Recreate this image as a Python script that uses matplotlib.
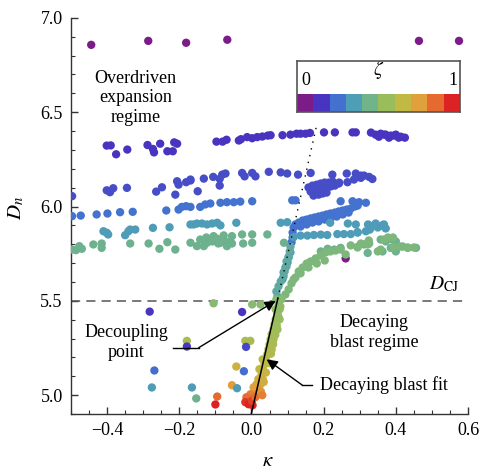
import matplotlib
matplotlib.use("Agg")
import matplotlib.pyplot as plt
from matplotlib.colors import LinearSegmentedColormap
import numpy as np

plt.rcParams["font.family"] = ["Liberation Serif", "DejaVu Serif"]
plt.rcParams["mathtext.fontset"] = "stix"

# ── colour scale (10 bins, zeta 0 -> 1) ──────────────────────────────────────
BIN_COLORS = ["#7b1c88", "#4834c0", "#4470d0", "#4e9eb6", "#72b48a",
              "#9abd5c", "#c2b844", "#e0a03c", "#e66a30", "#dc2222"]
cmap = LinearSegmentedColormap.from_list("zeta", BIN_COLORS)

# ── data: (kappa, D_n) per zeta group ────────────────────────────────────────
purple_x = [-0.444, -0.286, -0.181, -0.067, 0.464, 0.575, 0.261]
purple_y = [6.857, 6.878, 6.868, 6.884, 6.878, 6.878, 5.725]
purple_z = 0.0

indigo_x = [-0.401, -0.390, -0.375, -0.344, -0.288, -0.273, -0.270, -0.253, -0.233, -0.218,
            -0.214, -0.206, -0.097, -0.080, -0.069, -0.035, -0.029, -0.012, 0.002, 0.016,
            0.030, 0.045, 0.053, 0.086, 0.108, 0.125, 0.136, 0.150, 0.162, 0.201,
            0.231, 0.280, 0.289, 0.331, 0.344, 0.353, 0.358, 0.368, 0.372, 0.381,
            0.386, 0.395, 0.400, 0.408, 0.414, 0.425]
indigo_y = [6.323, 6.324, 6.277, 6.302, 6.326, 6.305, 6.287, 6.333, 6.293, 6.293,
            6.340, 6.333, 6.344, 6.344, 6.354, 6.350, 6.357, 6.368, 6.362, 6.368,
            6.371, 6.376, 6.378, 6.378, 6.381, 6.386, 6.386, 6.386, 6.390, 6.393,
            6.393, 6.393, 6.393, 6.392, 6.381, 6.370, 6.386, 6.381, 6.381, 6.365,
            6.376, 6.376, 6.381, 6.365, 6.370, 6.365]
indigo_z = 0.11

violet_blue_x = [-0.497, -0.401, -0.392, -0.383, -0.345, -0.264, -0.248, -0.211, -0.206, -0.202,
                 -0.181, -0.169, -0.149, -0.169, -0.132, -0.106, -0.088, -0.081, -0.072, -0.088,
                 -0.026, -0.019, 0.002, 0.011, 0.048, 0.081, 0.099, 0.129, 0.164, 0.224,
                 0.264, 0.289, 0.303, 0.312, 0.326, 0.243, 0.266, 0.284, 0.303, 0.335,
                 0.158, 0.169, 0.181, 0.192, 0.203, 0.214, 0.225, 0.164, 0.175, 0.186,
                 0.197, 0.208, 0.219, 0.172, 0.186, 0.197, 0.208, 0.231, 0.242]
violet_blue_y = [6.055, 6.086, 6.076, 6.097, 6.099, 6.079, 6.102, 6.063, 6.134, 6.116,
                 6.129, 6.138, 6.081, 6.143, 6.148, 6.157, 6.147, 6.169, 6.175, 6.111,
                 6.178, 6.160, 6.178, 6.160, 6.184, 6.181, 6.175, 6.169, 6.178, 6.169,
                 6.175, 6.175, 6.164, 6.164, 6.157, 6.127, 6.129, 6.143, 6.152, 6.146,
                 6.101, 6.111, 6.116, 6.122, 6.127, 6.127, 6.132, 6.079, 6.085, 6.090,
                 6.095, 6.101, 6.106, 6.058, 6.063, 6.069, 6.074, 6.111, 6.122]
violet_blue_z = 0.16

blue_x = [-0.497, -0.473, -0.429, -0.399, -0.364, -0.329, -0.236, -0.202, -0.193, -0.181,
          -0.169, -0.142, -0.128, -0.114, -0.086, -0.068, -0.049, -0.031, 0.002, 0.113,
          0.122, 0.247, 0.280, 0.298, 0.317,
          0.111, 0.114, 0.114, 0.117, 0.122, 0.131, 0.142, 0.153, 0.164, 0.175,
          0.186, 0.197, 0.208, 0.219, 0.231, 0.242, 0.253, 0.264, 0.275, 0.286,
          0.294, 0.136, 0.153, 0.169, 0.186, 0.203, 0.219, 0.236, 0.253, 0.269]
blue_y = [5.949, 5.952, 5.958, 5.963, 5.970, 5.972, 5.979, 5.984, 5.998, 6.002,
          5.998, 5.998, 6.011, 6.016, 6.020, 6.023, 6.023, 6.026, 6.028, 6.033,
          6.033, 6.028, 6.028, 6.023, 6.020,
          5.810, 5.836, 5.862, 5.889, 5.905, 5.915, 5.926, 5.931, 5.937, 5.942,
          5.947, 5.952, 5.958, 5.963, 5.968, 5.974, 5.979, 5.984, 5.989, 6.000,
          6.005, 5.894, 5.905, 5.915, 5.921, 5.931, 5.937, 5.947, 5.958, 5.968]
blue_z = 0.23

teal_x = [-0.410, -0.401, -0.397, -0.350, -0.341, -0.336, -0.322, -0.273, -0.227, -0.169,
          -0.160, -0.151, -0.137, -0.123, -0.109, -0.095, -0.086, -0.042, 0.081, 0.099,
          0.218, 0.267, 0.289, 0.323, 0.328, 0.351, 0.294, 0.317,
          0.117, 0.136, 0.155, 0.173, 0.192, 0.210, 0.238, 0.256, 0.275, 0.294,
          0.108, 0.100, 0.089, 0.086, 0.094, 0.103,
          0.339, 0.350, 0.361, 0.372, 0.344, 0.367]
teal_y = [5.869, 5.861, 5.852, 5.848, 5.869, 5.878, 5.878, 5.887, 5.890, 5.905,
          5.905, 5.910, 5.910, 5.905, 5.910, 5.914, 5.900, 5.914, 5.914, 5.917,
          5.914, 5.910, 5.905, 5.905, 5.878, 5.896, 5.864, 5.869,
          5.838, 5.846, 5.846, 5.849, 5.851, 5.849, 5.854, 5.854, 5.854, 5.862,
          5.757, 5.704, 5.651, 5.614, 5.677, 5.730,
          5.899, 5.889, 5.899, 5.884, 5.910, 5.905]
teal_z = 0.33

green_x = [-0.497, -0.486, -0.477, -0.470, -0.438, -0.415, -0.415, -0.336, -0.285, -0.255,
           -0.233, -0.211, -0.169, -0.151, -0.132, -0.123, -0.105, -0.095, -0.086, -0.077,
           -0.068, -0.054, -0.054, -0.026, -0.023, 0.002, 0.002, 0.044,
           -0.142, -0.125, -0.108, -0.092, -0.075, -0.061, 0.090,
           0.358, 0.372, 0.390, 0.400, 0.312, 0.326, 0.294, 0.247, 0.229, 0.211,
           0.192, 0.363, 0.386, 0.400, 0.419, 0.433, 0.456, 0.322]
green_y = [5.772, 5.769, 5.790, 5.776, 5.799, 5.804, 5.781, 5.804, 5.804, 5.776,
           5.811, 5.772, 5.808, 5.790, 5.790, 5.808, 5.843, 5.829, 5.808, 5.847,
           5.790, 5.804, 5.843, 5.852, 5.804, 5.852, 5.808, 5.852,
           5.825, 5.836, 5.815, 5.804, 5.820, 5.810, 5.808,
           5.825, 5.815, 5.825, 5.815, 5.799, 5.804, 5.786, 5.781, 5.772, 5.776,
           5.762, 5.762, 5.781, 5.762, 5.788, 5.781, 5.781, 5.754]
green_z = 0.43

column_x = [0.072, 0.069, 0.075, 0.081, 0.089, 0.092, 0.097, 0.097, 0.103, 0.106, 0.108]
column_y = [5.524, 5.550, 5.577, 5.603, 5.630, 5.656, 5.683, 5.709, 5.735, 5.762, 5.788]
column_z = 0.39

band_x = [0.094, 0.103, 0.111, 0.122, 0.131, 0.142, 0.153, 0.164, 0.178, 0.192,
          0.206, 0.219, 0.233, 0.247, 0.117, 0.136, 0.158, 0.181, 0.203,
          0.261, 0.294, 0.322, 0.325, 0.350, 0.358, 0.367, 0.378, 0.392, 0.394,
          0.414, 0.433, 0.450, 0.275, 0.303]
band_y = [5.534, 5.561, 5.593, 5.624, 5.656, 5.677, 5.698, 5.709, 5.725, 5.741,
          5.757, 5.762, 5.767, 5.772, 5.614, 5.646, 5.677, 5.698, 5.714,
          5.746, 5.783, 5.799, 5.820, 5.762, 5.772, 5.825, 5.836, 5.836, 5.783,
          5.788, 5.783, 5.783, 5.794, 5.804]
band_z = 0.48

# decaying-blast branch below D_CJ, zeta rising towards the bottom
decay_x = [0.069, 0.083, 0.075, 0.078, 0.067, 0.072, 0.067, 0.078, 0.064, 0.061,
           0.072, 0.056, 0.053, 0.061, 0.050, 0.047, 0.056, 0.044, 0.039, 0.031,
           0.036, 0.031, 0.022, 0.028, 0.019, 0.031, 0.014, 0.025, 0.006, 0.019,
           -0.003, 0.014, -0.014, 0.008, -0.017, -0.008, 0.003, 0.001, 0.011,
           0.080, 0.074, 0.070, 0.066, 0.060, 0.054, 0.048, 0.040, 0.034, 0.026, 0.030]
decay_y = [5.508, 5.508, 5.481, 5.455, 5.455, 5.429, 5.402, 5.402, 5.376, 5.349,
           5.349, 5.323, 5.296, 5.296, 5.270, 5.243, 5.243, 5.217, 5.190, 5.190,
           5.164, 5.138, 5.138, 5.111, 5.085, 5.085, 5.058, 5.058, 5.042, 5.032,
           5.005, 5.005, 4.989, 4.989, 4.963, 4.952, 4.947, 4.970, 4.990,
           5.470, 5.420, 5.370, 5.320, 5.270, 5.220, 5.170, 5.120, 5.070, 5.020, 5.000]
decay_z = [0.50, 0.50, 0.52, 0.53, 0.53, 0.54, 0.55, 0.55, 0.56, 0.57,
           0.57, 0.58, 0.59, 0.59, 0.60, 0.61, 0.61, 0.62, 0.64, 0.64,
           0.65, 0.67, 0.67, 0.69, 0.71, 0.71, 0.74, 0.74, 0.77, 0.77,
           0.84, 0.84, 0.88, 0.88, 0.97, 1.00, 1.00, 0.95, 0.88,
           0.52, 0.54, 0.56, 0.58, 0.60, 0.62, 0.65, 0.68, 0.72, 0.80, 0.84]

stray_x = [-0.105, 0.002, 0.025, -0.282, -0.026, -0.179, -0.179, -0.017, -0.003, -0.015,
           -0.269, -0.042, -0.021, -0.276, -0.165, -0.153, -0.054, -0.040, -0.095, -0.100]
stray_y = [5.487, 5.481, 5.481, 5.443, 5.441, 5.288, 5.258, 5.288, 5.288, 5.256,
           5.131, 5.152, 5.127, 5.041, 5.041, 4.983, 5.053, 5.037, 4.993, 4.951]
stray_z = [0.50, 0.50, 0.50, 0.11, 0.11, 0.60, 0.12, 0.60, 0.60, 0.15,
           0.22, 0.70, 0.22, 0.33, 0.33, 0.43, 0.78, 0.33, 0.89, 1.00]

D_CJ = 5.5
fit_x = [0.0, 0.073]
fit_y = [4.905, 5.512]
dotted_x = [0.073, 0.181]
dotted_y = [5.512, 6.434]

# ── figure ───────────────────────────────────────────────────────────────────
fig = plt.figure(figsize=(4.83, 4.70), dpi=100)
ax = fig.add_axes([0.147, 0.119, 0.822, 0.843])

groups = [
    (purple_x, purple_y, purple_z), (indigo_x, indigo_y, indigo_z),
    (violet_blue_x, violet_blue_y, violet_blue_z), (blue_x, blue_y, blue_z),
    (teal_x, teal_y, teal_z), (green_x, green_y, green_z),
    (column_x, column_y, column_z), (band_x, band_y, band_z),
    (decay_x, decay_y, decay_z), (stray_x, stray_y, stray_z),
]
for gx, gy, gz in groups:
    z = np.broadcast_to(np.asarray(gz, dtype=float), (len(gx),))
    ax.scatter(gx, gy, c=z, cmap=cmap, vmin=0, vmax=1, s=36,
               linewidths=0, zorder=3)

# reference lines
ax.axhline(D_CJ, color="#555555", lw=1.1, ls=(0, (6, 4)), zorder=2)
ax.plot(fit_x, fit_y, color="black", lw=1.1, zorder=5)
ax.plot(dotted_x, dotted_y, color="black", lw=1.0, ls=(0, (1, 4)), zorder=5)

# annotations
ax.text(-0.322, 6.577, "Overdriven\nexpansion\nregime", ha="center", va="center",
        fontsize=13, linespacing=1.2)
ax.text(-0.347, 5.280, "Decoupling\npoint", ha="center", va="center",
        fontsize=13, linespacing=1.2)
ax.text(0.340, 5.331, "Decaying\nblast regime", ha="center", va="center",
        fontsize=13, linespacing=1.2)
ax.text(0.190, 5.053, "Decaying blast fit", ha="left", va="center", fontsize=13)
ax.text(0.533, 5.590, r"$D_{\mathrm{CJ}}$", ha="center", va="center", fontsize=14)

arrow = dict(arrowstyle="-|>", color="black", lw=1.0, mutation_scale=16,
             shrinkA=0, shrinkB=0)
ax.plot([-0.217, -0.146], [5.252, 5.252], color="black", lw=1.0, zorder=5)
ax.annotate("", xy=(0.067, 5.500), xytext=(-0.146, 5.252), arrowprops=arrow, zorder=6)
ax.plot([0.141, 0.169], [5.053, 5.053], color="black", lw=1.0, zorder=5)
ax.annotate("", xy=(0.042, 5.190), xytext=(0.141, 5.053), arrowprops=arrow, zorder=6)

# axes styling
ax.set_xlim(-0.5, 0.6)
ax.set_ylim(4.905, 7.0)
ax.set_xticks([-0.4, -0.2, 0.0, 0.2, 0.4, 0.6])
ax.set_yticks([5.0, 5.5, 6.0, 6.5, 7.0])
ax.set_xticks(np.arange(-0.5, 0.601, 0.05), minor=True)
ax.set_yticks(np.arange(4.9, 7.001, 0.1), minor=True)
for side in ("top", "right"):
    ax.spines[side].set_visible(False)
for side in ("left", "bottom"):
    ax.spines[side].set_color("#333333")
    ax.spines[side].set_linewidth(1.0)
ax.tick_params(which="both", direction="in", colors="#333333", labelcolor="black",
               labelsize=13)
ax.tick_params(which="major", length=5, width=1.0, pad=6)
ax.tick_params(which="minor", length=2.8, width=0.8)

ax.set_ylabel(r"$D_n$", fontsize=15)
ax.set_xlabel(r"$\kappa$", fontsize=15)
ax.yaxis.set_label_coords(-0.113, 0.52)
ax.xaxis.set_label_coords(0.496, -0.095)

# colour key box
cax = fig.add_axes([0.615, 0.762, 0.337, 0.108])
cax.set_xlim(0, 10)
cax.set_ylim(0, 1)
cax.bar(np.arange(10) + 0.5, [0.35] * 10, width=1.0, color=BIN_COLORS, linewidth=0)
cax.text(0.55, 0.62, "0", ha="center", va="center", fontsize=13)
cax.text(9.55, 0.62, "1", ha="center", va="center", fontsize=13)
cax.text(5.0, 0.82, r"$\zeta$", ha="center", va="center", fontsize=14)
cax.set_xticks([])
cax.set_yticks([])
for sp in cax.spines.values():
    sp.set_color("#555555")
    sp.set_linewidth(1.2)

fig.savefig("out.png", dpi=100)
